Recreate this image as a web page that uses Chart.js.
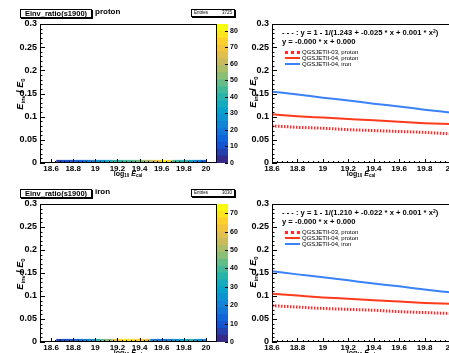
<!DOCTYPE html>
<html>
<head>
<meta charset="utf-8">
<title>Einv_ratio(s1900)</title>
<script src="https://cdn.jsdelivr.net/npm/chart.js@4.4.1/dist/chart.umd.min.js"></script>
<style>
  html, body { margin: 0; padding: 0; background: #fff; }
  body { position: relative; width: 449px; height: 353px; overflow: hidden; font-family: 'Liberation Sans', Arial, sans-serif; }
  canvas { position: absolute; }
  .txt { position: absolute; white-space: nowrap; color: #000; font-weight: bold; line-height: 1; }
  .txt sub { font-size: 65%; vertical-align: -0.35em; line-height: 0; }
  .txt sup { font-size: 65%; vertical-align: 0.5em; line-height: 0; }
  .pave { position: absolute; background: #fff; border: 1px solid #000; box-shadow: 1px 1px 0 #000; box-sizing: border-box; }
</style>
</head>
<body>
<script>
// histogram bins (log10 E_cal) and counts in the lowest Einv/E0 row
const binCenters = [18.625, 18.675, 18.725, 18.775, 18.825, 18.875, 18.925, 18.975,
                    19.025, 19.075, 19.125, 19.175, 19.225, 19.275, 19.325, 19.375,
                    19.425, 19.475, 19.525, 19.575, 19.625, 19.675, 19.725, 19.775,
                    19.825, 19.875, 19.925, 19.975];
const countsProton = [0, 6, 9, 11, 13, 16, 20, 23, 26, 29, 34, 38, 40, 42, 45, 48,
                      51, 55, 60, 70, 80, 74, 45, 40, 38, 33, 22, 16];
const countsIron = [0, 6, 8, 10, 12, 18, 22, 26, 36, 42, 46, 58, 64, 70, 71, 66,
                    62, 58, 20, 16, 18, 20, 26, 28, 30, 36, 26, 22];
const entriesProton = 3725;
const entriesIron = 3030;
const zMaxProton = 84;
const zMaxIron = 75;

// parametrisation curves
const energyPts = [18.6, 18.8, 19.0, 19.2, 19.4, 19.6, 19.8, 20.0];
const q3ProtonTop = [0.080, 0.077, 0.075, 0.072, 0.070, 0.068, 0.066, 0.063];
const q4ProtonTop = [0.105, 0.101, 0.098, 0.095, 0.092, 0.089, 0.086, 0.084];
const q4IronTop = [0.154, 0.148, 0.141, 0.135, 0.128, 0.122, 0.115, 0.109];
const q3ProtonBottom = [0.079, 0.076, 0.073, 0.071, 0.069, 0.066, 0.064, 0.062];
const q4ProtonBottom = [0.105, 0.101, 0.097, 0.094, 0.091, 0.088, 0.085, 0.083];
const q4IronBottom = [0.154, 0.147, 0.141, 0.134, 0.127, 0.121, 0.114, 0.108];
const seriesNames = ['QGSJETII-03, proton', 'QGSJETII-04, proton', 'QGSJETII-04, iron'];
const fitTop = ['1.243', '-0.025', '0.001'];
const fitBottom = ['1.210', '-0.022', '0.001'];

// ROOT kBird palette
const birdR = [0.2082, 0.0592, 0.0780, 0.0232, 0.1802, 0.5301, 0.8186, 0.9956, 0.9764];
const birdG = [0.1664, 0.3599, 0.5041, 0.6419, 0.7178, 0.7492, 0.7328, 0.7862, 0.9832];
const birdB = [0.5293, 0.8684, 0.8385, 0.7914, 0.6425, 0.4662, 0.3499, 0.1968, 0.0539];
const nLevels = 20;

function bird(t) {
    const f = Math.max(0, Math.min(1, t)) * (birdR.length - 1);
    const i = Math.min(birdR.length - 2, Math.floor(f));
    const u = f - i;
    const c = arr => Math.round(255 * (arr[i] + (arr[i + 1] - arr[i]) * u));
    return `rgb(${c(birdR)},${c(birdG)},${c(birdB)})`;
}

function levelColor(count, zMax) {
    const lvl = Math.min(nLevels - 1, Math.floor(count / zMax * nLevels));
    return bird(lvl / (nLevels - 1));
}

Chart.defaults.font.family = "'Liberation Sans', Arial, sans-serif";
Chart.defaults.color = '#000';

// frame + ticks drawn inside the frame, ROOT style
const frameTicks = {
    id: 'frameTicks',
    afterDatasetsDraw(chart, args, opts) {
        const ctx = chart.ctx;
        const a = chart.chartArea;
        ctx.save();
        ctx.strokeStyle = '#000';
        ctx.lineWidth = 1;
        (opts.axes || []).forEach(t => {
            const s = chart.scales[t.id];
            const n = Math.round((s.max - s.min) / t.minor);
            const every = Math.round(t.major / t.minor);
            for (let i = 0; i <= n; i++) {
                const v = s.min + i * t.minor;
                const len = i % every === 0 ? t.len : t.minorLen;
                if (!len) continue;
                const p = Math.round(s.getPixelForValue(v)) + 0.5;
                ctx.beginPath();
                if (t.side === 'bottom') {
                    ctx.moveTo(p, a.bottom);
                    ctx.lineTo(p, a.bottom - len);
                } else if (t.side === 'left') {
                    ctx.moveTo(a.left, p);
                    ctx.lineTo(a.left + len, p);
                } else {
                    ctx.moveTo(a.right, p);
                    ctx.lineTo(a.right - len, p);
                }
                ctx.stroke();
            }
        });
        if (opts.frame) {
            ctx.strokeRect(a.left + 0.5, a.top + 0.5, a.width - 1, a.height - 1);
        }
        ctx.restore();
    }
};

function makeCanvas(left, top, w, h) {
    const c = document.createElement('canvas');
    c.width = w;
    c.height = h;
    c.style.left = left + 'px';
    c.style.top = top + 'px';
    document.body.appendChild(c);
    return c;
}

function addText(html, x, y, size, extra) {
    const d = document.createElement('div');
    d.className = 'txt';
    d.innerHTML = html;
    d.style.left = x + 'px';
    d.style.top = y + 'px';
    d.style.fontSize = size + 'px';
    if (extra) Object.assign(d.style, extra);
    document.body.appendChild(d);
    return d;
}

const tickFont = { size: 9, weight: 'bold' };
const xTickFont = { size: 8, weight: 'bold' };

function xScale(height) {
    return {
        type: 'linear', min: 18.6, max: 20,
        ticks: { stepSize: 0.2, maxRotation: 0, autoSkip: false, padding: 1, font: xTickFont,
                 callback: v => String(+v.toFixed(1)) },
        grid: { display: false, drawTicks: false },
        border: { display: false },
        afterFit(s) { s.height = height; }
    };
}

function yScale(width) {
    return {
        min: 0, max: 0.3,
        ticks: { stepSize: 0.05, padding: 3, font: tickFont,
                 callback: v => String(+v.toFixed(2)) },
        grid: { display: false, drawTicks: false },
        border: { display: false },
        afterFit(s) { s.width = width; }
    };
}

const innerTicks = {
    frame: true,
    axes: [
        { id: 'x', side: 'bottom', major: 0.2, minor: 0.04, len: 4, minorLen: 2 },
        { id: 'y', side: 'left', major: 0.05, minor: 0.01, len: 5, minorLen: 2.5 }
    ]
};

function drawRow(row) {
    const plotTop = row.top + row.padTop;
    const plotBottom = row.top + row.h - row.xAxisH;

    // 2D histogram (only the lowest row is filled)
    const pts = [], cols = [];
    binCenters.forEach((x, i) => {
        if (row.counts[i] > 0) {
            pts.push({ x: x, y: [0, 0.006] });
            cols.push(levelColor(row.counts[i], row.zMax));
        }
    });
    new Chart(makeCanvas(0, row.top, 235, row.h), {
        type: 'bar',
        data: { datasets: [{ data: pts, backgroundColor: cols, borderWidth: 0,
                             barPercentage: 1, categoryPercentage: 1 }] },
        options: {
            responsive: false, animation: false, devicePixelRatio: 1, events: [],
            layout: { padding: { top: row.padTop, right: 18 } },
            plugins: { legend: { display: false }, tooltip: { enabled: false }, frameTicks: innerTicks },
            scales: { x: xScale(row.xAxisH), y: yScale(40) }
        },
        plugins: [frameTicks]
    });

    // colour palette bar
    const levels = [];
    for (let i = 0; i < nLevels; i++) {
        levels.push({ data: [row.zMax / nLevels], backgroundColor: bird(i / (nLevels - 1)),
                      borderWidth: 0, barPercentage: 1, categoryPercentage: 1 });
    }
    new Chart(makeCanvas(212, row.top, 40, row.h), {
        type: 'bar',
        data: { labels: [''], datasets: levels },
        options: {
            responsive: false, animation: false, devicePixelRatio: 1, events: [],
            layout: { padding: { left: 5, top: row.padTop, bottom: row.xAxisH } },
            plugins: {
                legend: { display: false }, tooltip: { enabled: false },
                frameTicks: { axes: [{ id: 'y', side: 'right', major: 10, minor: 10, len: 3, minorLen: 3 }] }
            },
            scales: {
                x: { display: false, stacked: true },
                y: {
                    stacked: true, position: 'right', min: 0, max: row.zMax,
                    ticks: { stepSize: 10, includeBounds: false, padding: 2, font: { size: 7, weight: 'bold' } },
                    grid: { display: false, drawTicks: false },
                    border: { display: false },
                    afterFit(s) { s.width = 24; }
                }
            }
        },
        plugins: [frameTicks]
    });

    // parametrisation lines
    const toPts = arr => energyPts.map((x, i) => ({ x: x, y: arr[i] }));
    const lineChart = new Chart(makeCanvas(225, row.top, 245, row.h), {
        type: 'line',
        data: {
            datasets: [
                { label: seriesNames[0], data: toPts(row.q3p), borderColor: '#ff2b2b', borderWidth: 3,
                  borderDash: [1.5, 1.5], pointRadius: 0, cubicInterpolationMode: 'monotone' },
                { label: seriesNames[1], data: toPts(row.q4p), borderColor: '#ff3b1c', borderWidth: 2,
                  pointRadius: 0, cubicInterpolationMode: 'monotone' },
                { label: seriesNames[2], data: toPts(row.q4i), borderColor: '#3a82f7', borderWidth: 2,
                  pointRadius: 0, cubicInterpolationMode: 'monotone' }
            ]
        },
        options: {
            responsive: false, animation: false, devicePixelRatio: 1, events: [],
            layout: { padding: { top: row.padTop, right: 20 } },
            plugins: { legend: { display: false }, tooltip: { enabled: false }, frameTicks: innerTicks },
            scales: { x: xScale(row.xAxisH), y: yScale(47) }
        },
        plugins: [frameTicks]
    });

    // pave title + entries box
    const box = document.createElement('div');
    box.className = 'pave';
    Object.assign(box.style, { left: '20px', top: (plotTop - 15) + 'px', width: '72px', height: '9px' });
    document.body.appendChild(box);
    addText('Einv_ratio(s1900)', 20, plotTop - 14.5, 7.5, { width: '72px', textAlign: 'center' });
    addText(row.name, 95, plotTop - 16, 8);

    const ent = document.createElement('div');
    ent.className = 'pave';
    Object.assign(ent.style, { left: '191px', top: (plotTop - 15) + 'px', width: '44px', height: '8px' });
    document.body.appendChild(ent);
    addText('Entries', 194, plotTop - 13, 4.5, { fontWeight: 'normal' });
    addText(String(row.entries), 222, plotTop - 13, 4.5, { fontWeight: 'normal' });

    // axis titles
    const yTitle = '<i>E</i><sub>inv</sub> / <i>E</i><sub>0</sub>';
    const xTitle = 'log<sub>10</sub> <i>E</i><sub>cal</sub>';
    const rot = { transform: 'translate(-50%, -50%) rotate(-90deg)' };
    const mid = { transform: 'translate(-50%, -50%)' };
    addText(yTitle, 20, plotTop + 70, 9, rot);
    addText(yTitle, 253, plotTop + 68, 9, rot);
    addText(xTitle, 128, plotBottom + 10, 7, mid);
    addText(xTitle, 361, plotBottom + 10, 7, mid);

    // fit text and legend
    const f = row.fit;
    addText(`- - - : y = 1 - 1/(${f[0]} + ${f[1]} * x + ${f[2]} * x<sup>2</sup>)`, 282, plotTop + 5, 7.6);
    addText('y = -0.000 * x + 0.000', 282, plotTop + 14, 7.6);
    const rows = [plotTop + 28, plotTop + 34, plotTop + 39.5];
    lineChart.data.datasets.forEach((ds, i) => {
        const s = document.createElement('div');
        const style = ds.borderDash ? 'dotted' : 'solid';
        Object.assign(s.style, { position: 'absolute', left: '285px', top: (rows[i] - ds.borderWidth / 2) + 'px',
                                 width: '15px', height: '0', borderTop: `${ds.borderWidth}px ${style} ${ds.borderColor}` });
        document.body.appendChild(s);
        addText(ds.label, 302, rows[i] - 3, 6, { fontWeight: 'normal' });
    });
}

drawRow({ top: 0, h: 178, padTop: 24, xAxisH: 15, name: 'proton', counts: countsProton,
          zMax: zMaxProton, entries: entriesProton, fit: fitTop,
          q3p: q3ProtonTop, q4p: q4ProtonTop, q4i: q4IronTop });
drawRow({ top: 176, h: 177, padTop: 28, xAxisH: 11, name: 'iron', counts: countsIron,
          zMax: zMaxIron, entries: entriesIron, fit: fitBottom,
          q3p: q3ProtonBottom, q4p: q4ProtonBottom, q4i: q4IronBottom });
</script>
</body>
</html>
